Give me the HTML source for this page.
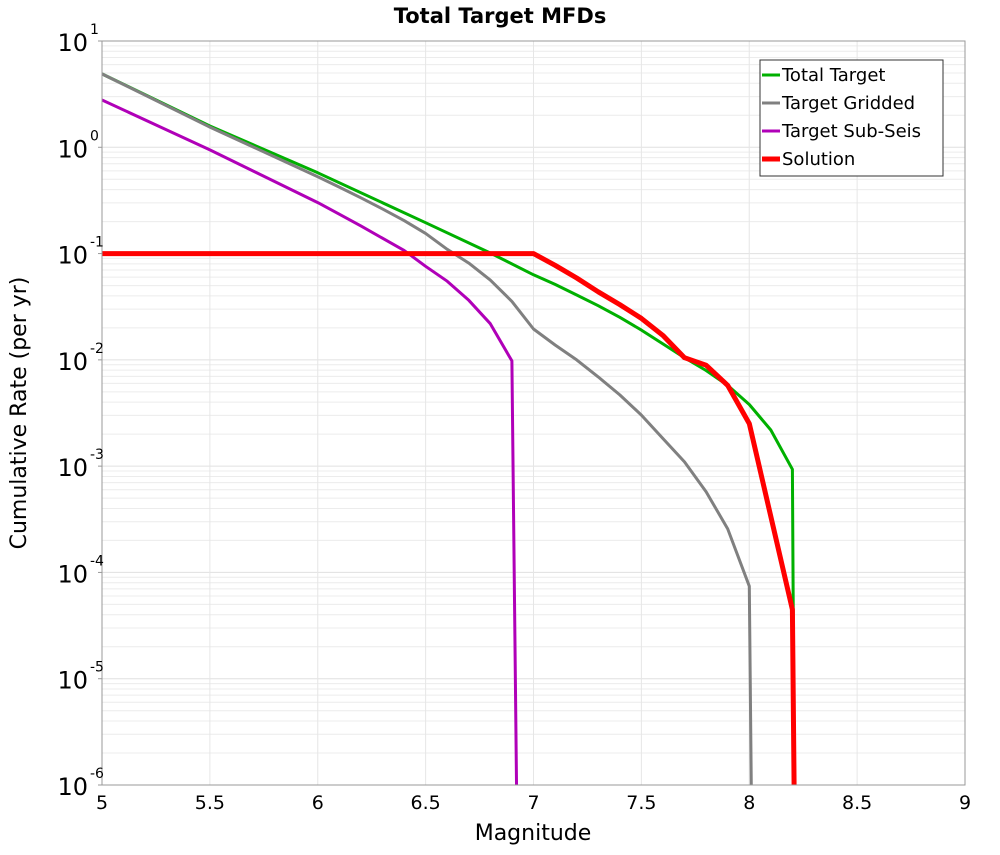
<!DOCTYPE html>
<html><head><meta charset="utf-8"><style>
body{margin:0;background:#fff;font-family:"Liberation Sans","DejaVu Sans",sans-serif}
svg text{font-family:"DejaVu Sans","Liberation Sans",sans-serif}
</style></head><body>
<svg id="chart" width="1000" height="850" viewBox="0 0 1000 850" xmlns="http://www.w3.org/2000/svg">
<rect width="1000" height="850" fill="#fff"/>
<text x="500" y="23" text-anchor="middle" font-size="21" font-weight="bold">Total Target MFDs</text>
<g id="grid"></g>
<g id="series"></g>
<rect x="102" y="41" width="863" height="744" fill="none" stroke="#999" stroke-width="1"/>
<g id="ticks"></g>
<text x="533" y="840" text-anchor="middle" font-size="22">Magnitude</text>
<text transform="translate(26,413) rotate(-90)" text-anchor="middle" font-size="22">Cumulative Rate (per yr)</text>
<g>
<rect x="760" y="60" width="183" height="116" fill="#fff" stroke="#333" stroke-width="1"/>
<g><line x1="762" y1="75" x2="780" y2="75" stroke="#00b000" stroke-width="3"/><text x="782" y="81" font-size="18">Total Target</text></g>
<g><line x1="762" y1="103" x2="780" y2="103" stroke="#808080" stroke-width="3"/><text x="782" y="109" font-size="18">Target Gridded</text></g>
<g><line x1="762" y1="131" x2="780" y2="131" stroke="#b000b8" stroke-width="3"/><text x="782" y="137" font-size="18">Target Sub-Seis</text></g>
<g><line x1="762" y1="159" x2="780" y2="159" stroke="#ff0000" stroke-width="5"/><text x="782" y="165" font-size="18">Solution</text></g>
</g>
</svg>
<script>
const xTicks = [5, 5.5, 6, 6.5, 7, 7.5, 8, 8.5, 9];
const yExps = [1, 0, -1, -2, -3, -4, -5, -6];
const totalMags = [5, 5.5, 6, 6.5, 6.8, 7, 7.1, 7.2, 7.3, 7.4, 7.5, 7.6, 7.7, 7.8, 7.9, 8.0, 8.1, 8.2, 8.21];
const totalLog = [0.69, 0.2, -0.24, -0.71, -0.995, -1.2, -1.29, -1.39, -1.49, -1.6, -1.72, -1.85, -1.98, -2.1, -2.24, -2.42, -2.66, -3.03, -6.5];
const griddedMags = [5, 5.5, 6, 6.1, 6.2, 6.3, 6.4, 6.5, 6.6, 6.7, 6.8, 6.9, 7.0, 7.1, 7.2, 7.3, 7.4, 7.5, 7.6, 7.7, 7.8, 7.9, 8.0, 8.012];
const griddedLog = [0.69, 0.19, -0.277, -0.375, -0.475, -0.58, -0.69, -0.81, -0.96, -1.09, -1.25, -1.45, -1.71, -1.86, -2.0, -2.16, -2.33, -2.52, -2.74, -2.96, -3.24, -3.59, -4.13, -6.5];
const subSeisMags = [5, 5.5, 6, 6.1, 6.2, 6.3, 6.4, 6.5, 6.6, 6.7, 6.8, 6.9, 6.924];
const subSeisLog = [0.445, -0.025, -0.52, -0.63, -0.74, -0.855, -0.97, -1.12, -1.26, -1.44, -1.66, -2.01, -6.5];
const solutionMags = [5, 7.0, 7.1, 7.2, 7.3, 7.4, 7.5, 7.6, 7.7, 7.8, 7.9, 8.0, 8.2, 8.21];
const solutionLog = [-1, -1, -1.11, -1.23, -1.36, -1.48, -1.61, -1.77, -1.98, -2.05, -2.24, -2.6, -4.35, -6.5];

const X0=102, X1=965, Y0=41, Y1=785;
const xScale = m => X0 + (m-5)/4*(X1-X0);
const yScale = lg => Y0 + (1-lg)/7*(Y1-Y0);
const NS='http://www.w3.org/2000/svg';
function mk(tag, attrs, parent){const e=document.createElementNS(NS,tag);for(const k in attrs)e.setAttribute(k,attrs[k]);parent.appendChild(e);return e;}
const grid=document.getElementById('grid'), ticks=document.getElementById('ticks'), series=document.getElementById('series');
// grid
for (let d=-6; d<1; d++) for (let k=2;k<=9;k++){
  const y=yScale(d+Math.log10(k));
  const l=mk('line',{x1:X0,x2:X1,y1:y,y2:y,stroke:'#ececec','stroke-width':1},grid);
  
  
}
yExps.forEach(e=>{
  const y=yScale(e);
  const l=mk('line',{x1:X0,x2:X1,y1:y,y2:y,stroke:'#e0e0e0','stroke-width':1},grid);
  
  
  const t=mk('text',{x:88,y:y+10,'text-anchor':'end','font-size':24},ticks);
  
  
  t.textContent='10';
  const s=mk('text',{x:90,y:y-7,'font-size':14},ticks);
  
  
  s.textContent=String(e).replace('-','-');
  const tk=mk('line',{x1:X0-4,x2:X0,y1:y,y2:y,stroke:'#999'},ticks);
  
  
});
xTicks.forEach(m=>{
  const x=xScale(m);
  const l=mk('line',{x1:x,x2:x,y1:Y0,y2:Y1,stroke:'#e6e6e6','stroke-width':1},grid);
  
  
  const t=mk('text',{x:x,y:809,'text-anchor':'middle','font-size':19},ticks);
  
  
  t.textContent=String(m);
});
const cp=mk('clipPath',{id:'plotclip'},series);
mk('rect',{x:X0,y:Y0,width:X1-X0,height:Y1-Y0},cp);
function line(mags,logs,color,w,name){
  const pts=mags.map((m,i)=>xScale(m).toFixed(1)+','+yScale(logs[i]).toFixed(1)).join(' ');
  const p=mk('polyline',{points:pts,fill:'none',stroke:color,'stroke-width':w,'stroke-linejoin':'round','clip-path':'url(#plotclip)'},series);
  
  
}
line(totalMags,totalLog,'#00b000',3,'total-target-line');
line(griddedMags,griddedLog,'#808080',3,'target-gridded-line');
line(subSeisMags,subSeisLog,'#b000b8',3,'target-sub-seis-line');
line(solutionMags,solutionLog,'#ff0000',5,'solution-line');
</script>
</body></html>
